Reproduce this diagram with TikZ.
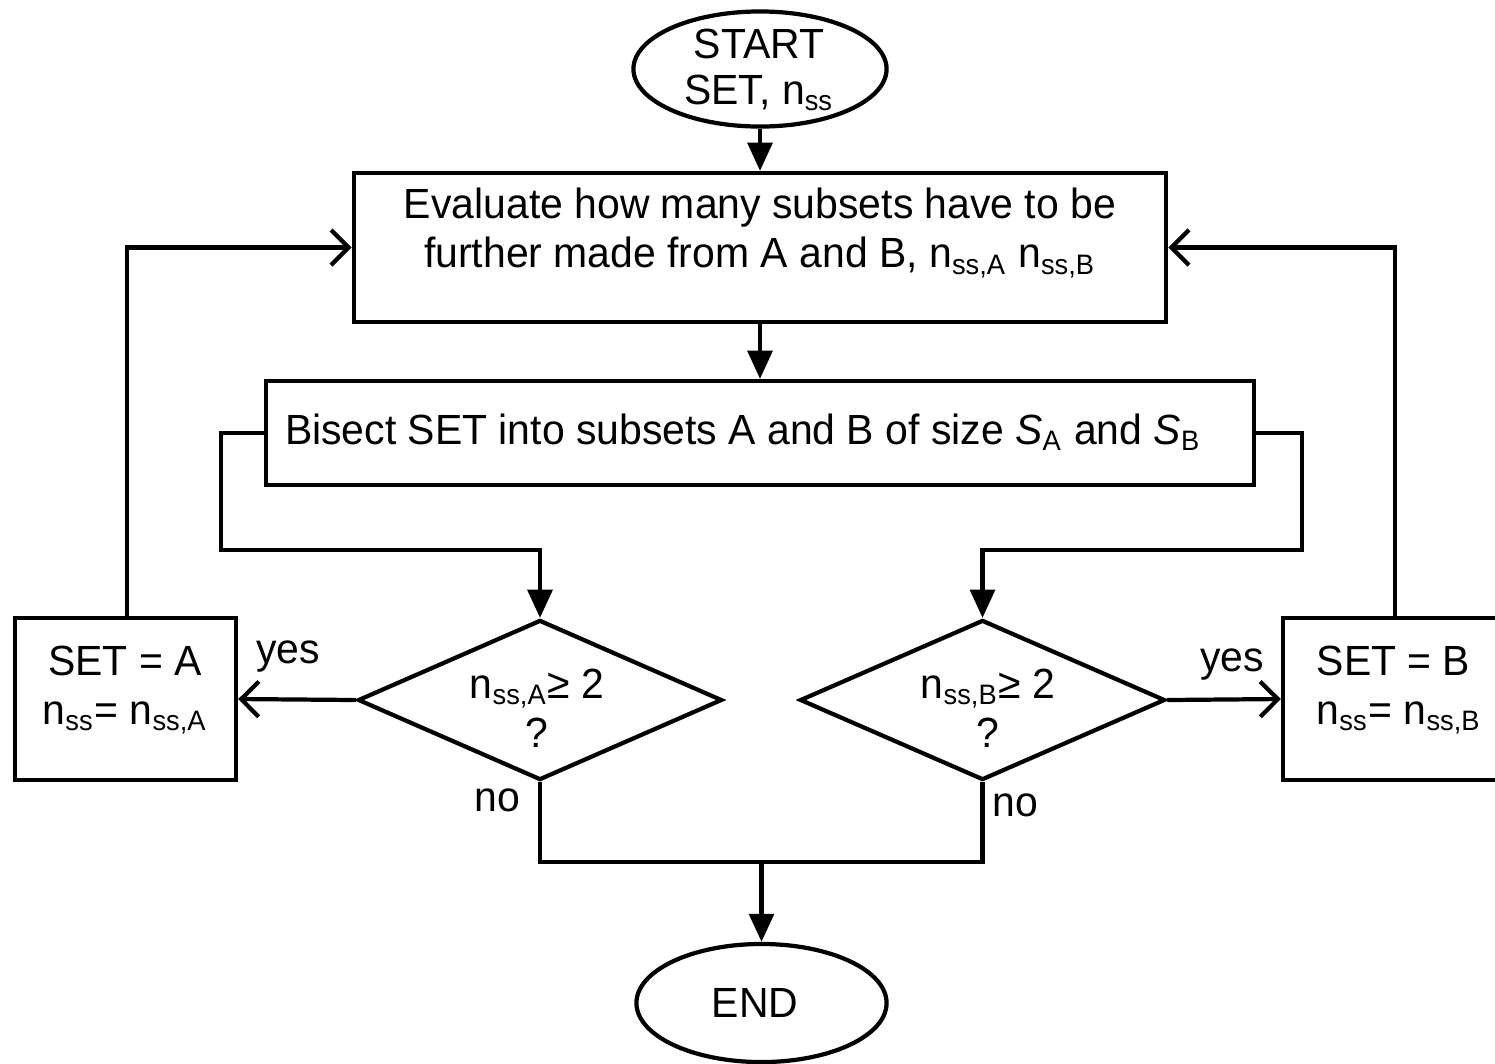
\documentclass[tikz,border=0pt]{standalone}
\usepackage{fontspec}
\setmainfont{Liberation Sans}[FakeStretch=0.97]
\usetikzlibrary{shapes.geometric,arrows.meta}
\newcommand\sbs[1]{\textsubscript{#1}}
\begin{document}
\begin{tikzpicture}[x=0.01cm,y=-0.01cm,
  every node/.style={font=\fontsize{12}{14}\selectfont, inner sep=0pt},
  box/.style={draw, line width=1.2pt, rectangle},
  term/.style={draw, line width=1.2pt, ellipse},
  dec/.style={draw, line width=1.2pt, diamond},
  line/.style={line width=1.2pt},
  arr/.style={line width=1.2pt, -{Straight Barb[length=5pt,width=10pt]}},
  darr/.style={line width=1.2pt, -{Triangle[length=8pt,width=7pt]}},
  txt/.style={align=center}]
\useasboundingbox (0,0) rectangle (1495,1063);
% shapes
\node[term, minimum width=2.53cm, minimum height=1.15cm] (start) at (760,69) {};
\node[txt, font=\fontsize{12}{13}\selectfont] (starttxt) at (759,70) {START\\SET, n\sbs{ss}};
\node[box, minimum width=8.12cm, minimum height=1.49cm] (eval) at (760,247.5) {};
\node[txt] (evaltxt) at (760,233) {Evaluate how many subsets have to be\\further made from A and B, n\sbs{ss,A} n\sbs{ss,B}};
\node[box, minimum width=9.88cm, minimum height=1.04cm] (bis) at (760,433) {};
\node (bistxt) at (743,432) {Bisect SET into subsets A and B of size \textit{S}\sbs{A} and \textit{S}\sbs{B}};
\node[dec, minimum width=3.64cm, minimum height=1.6cm] (da) at (540,700) {};
\node[txt] (datxt) at (537,708) {n\sbs{ss,A}≥ 2\\?};
\node[dec, minimum width=3.65cm, minimum height=1.6cm] (db) at (982.5,700) {};
\node[txt] (dbtxt) at (988,708) {n\sbs{ss,B}≥ 2\\?};
\node[box, minimum width=2.21cm, minimum height=1.62cm] (seta) at (125.5,699) {};
\node[txt] (setatxt) at (125,690) {SET = A\\n\sbs{ss}= n\sbs{ss,A}};
\node[box, minimum width=2.17cm, minimum height=1.62cm] (setb) at (1391.5,699) {};
\node[align=left, anchor=west] (setbtxt) at (1316,690) {SET = B\\n\sbs{ss}= n\sbs{ss,B}};
\node[term, minimum width=2.5cm, minimum height=1.18cm] (end) at (761.5,1003) {};
\node (endtxt) at (755,1003) {END};
% labels
\node (yesa) at (288,657) {yes};
\node (yesb) at (1232,665) {yes};
\node (noa) at (497,800) {no};
\node (nob) at (1015,805) {no};
% helper coordinates
\coordinate (lk) at (221,550);
\coordinate (rk) at (1302,550);
\coordinate (jn) at (761.5,862);
\coordinate (la) at (127,618);
\coordinate (rb) at (1395,618);
% connectors
\draw[darr] (start.south) -- (eval.north);
\draw[darr] (eval.south) -- (bis.north);
\draw[darr] (bis.west) -| (lk) -| (da.north);
\draw[darr] (bis.east) -| (rk) -| (db.north);
\draw[arr] (da.west) -- (seta.east);
\draw[arr] (db.east) -- (setb.west);
\draw[arr] (la) |- (eval.west);
\draw[arr] (rb) |- (eval.east);
\draw[line] (da.south) |- (db.south |- jn) -- (db.south);
\draw[darr] (jn) -- (end.north);
\end{tikzpicture}
\end{document}
